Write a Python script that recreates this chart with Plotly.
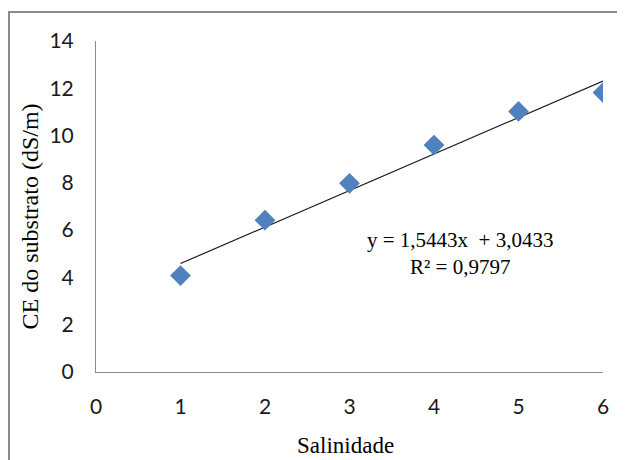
import plotly.graph_objects as go

salinidade = [1, 2, 3, 4, 5, 6]
ce_substrato = [4.08, 6.42, 7.98, 9.6, 11.02, 11.82]
slope = 1.5443
intercept = 3.0433
r2 = 0.9797
x_ticks = [0, 1, 2, 3, 4, 5, 6]
y_ticks = [0, 2, 4, 6, 8, 10, 12, 14]

trend_x = [min(salinidade), max(salinidade)]
trend_y = [slope * v + intercept for v in trend_x]

# page body has an 8px margin, so the figure is laid out 8px smaller
W, H = 617, 452
L, R, T, B = 88, 22, 33, 88
pw, ph = W - L - R, H - T - B

fig = go.Figure()
fig.add_trace(go.Scatter(x=trend_x, y=trend_y, mode="lines",
                         line=dict(color="#1a1a1a", width=1.2),
                         showlegend=False, hoverinfo="skip"))
fig.add_trace(go.Scatter(x=salinidade, y=ce_substrato, mode="markers",
                         marker=dict(symbol="diamond", size=16, color="#4F81BD",
                                     line=dict(width=0)),
                         showlegend=False))

eq = f"y = {slope:.4f}x  + {intercept:.4f}".replace(".", ",")
rr = f"R² = {r2:.4f}".replace(".", ",")
fig.add_annotation(x=4.31, y=5.0, xref="x", yref="y", text=eq + "<br>" + rr,
                   showarrow=False, align="center",
                   font=dict(family="Liberation Serif", size=21, color="#000"))

fig.add_annotation(x=0.493, y=0, xref="paper", yref="paper", yshift=-73,
                   text="Salinidade", showarrow=False, xanchor="center", yanchor="middle",
                   font=dict(family="Liberation Serif", size=23, color="#000"))
fig.add_annotation(x=0, y=0.47, xref="paper", yref="paper", xshift=-66,
                   text="CE do substrato (dS/m)", textangle=-90, showarrow=False,
                   xanchor="center", yanchor="middle",
                   font=dict(family="Liberation Serif", size=24, color="#000"))

fig.add_shape(type="rect", xref="paper", yref="paper",
              x0=(1 - L) / pw, x1=(W + 20 - L) / pw,
              y0=-(H + 20 - T - ph) / ph, y1=1 + (T - 4) / ph,
              line=dict(color="#8a8a8a", width=2), layer="below")

fig.update_layout(
    width=W, height=H, margin=dict(l=L, r=R, t=T, b=B),
    paper_bgcolor="white", plot_bgcolor="white",
    font=dict(family="Lato", size=21, color="#1a1a1a"),
    xaxis=dict(range=[0, 6], tickvals=x_ticks, showgrid=False, zeroline=False,
               showline=True, linecolor="#8c8c8c", linewidth=1, ticks="",
               ticklabelstandoff=16),
    yaxis=dict(range=[0, 14], tickvals=y_ticks, showgrid=False, zeroline=False,
               showline=True, linecolor="#8c8c8c", linewidth=1, ticks="",
               ticklabelstandoff=17),
)

fig.write_html("out.html")
